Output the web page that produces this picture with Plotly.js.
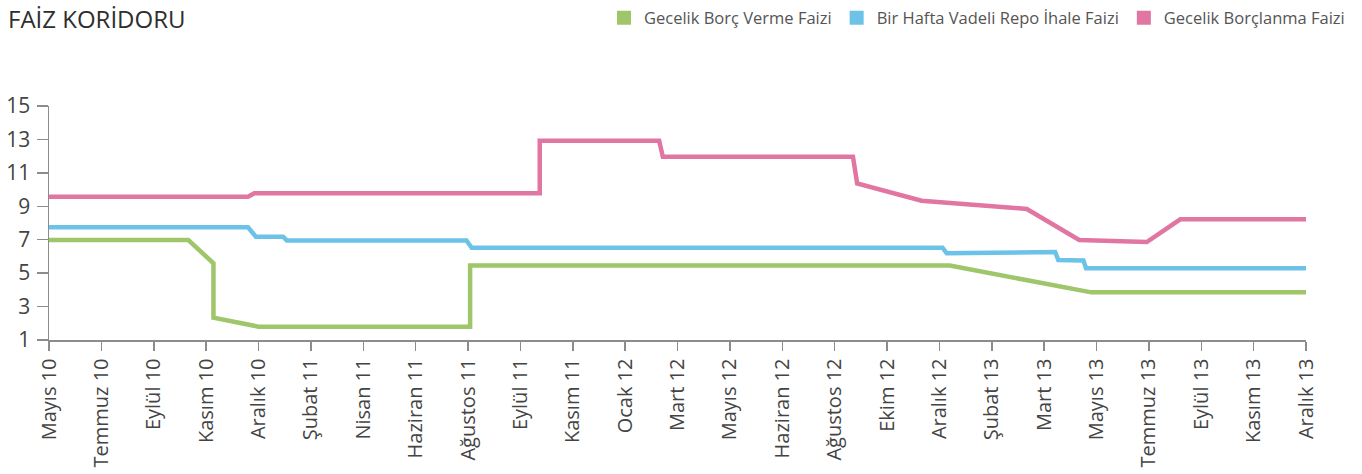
<!DOCTYPE html>
<html>
<head>
<meta charset="utf-8">
<script src="https://cdn.plot.ly/plotly-3.0.1.min.js"></script>
<style>html,body{margin:0;padding:0;background:#fff;}#chart{width:1362px;height:474px;}</style>
</head>
<body>
<div id="chart"></div>
<script>
// Category tick labels (x axis is an index scale 0..24, one step per label)
const tickLabels = ["Mayıs 10","Temmuz 10","Eylül 10","Kasım 10","Aralık 10","Şubat 11","Nisan 11","Haziran 11","Ağustos 11","Eylül 11","Kasım 11","Ocak 12","Mart 12","Mayıs 12","Haziran 12","Ağustos 12","Ekim 12","Aralık 12","Şubat 13","Mart 13","Mayıs 13","Temmuz 13","Eylül 13","Kasım 13","Aralık 13"];

const seriesNames = ["Gecelik Borç Verme Faizi","Bir Hafta Vadeli Repo İhale Faizi","Gecelik Borçlanma Faizi"];

// Gecelik Borç Verme Faizi (green)
const greenX = [0, 2.66, 3.14, 3.14, 4.0, 8.04, 8.04, 17.2, 19.9, 24];
const greenY = [6.98, 6.98, 5.59, 2.33, 1.80, 1.80, 5.45, 5.45, 3.85, 3.85];

// Bir Hafta Vadeli Repo İhale Faizi (blue)
const blueX = [0, 3.8, 3.95, 4.47, 4.54, 7.97, 8.07, 17.06, 17.14, 19.21, 19.27, 19.75, 19.8, 24];
const blueY = [7.74, 7.74, 7.18, 7.18, 6.96, 6.96, 6.52, 6.52, 6.19, 6.27, 5.79, 5.76, 5.29, 5.29];

// Gecelik Borçlanma Faizi (pink)
const pinkX = [0, 3.8, 3.92, 9.37, 9.37, 11.65, 11.72, 15.35, 15.43, 16.66, 18.67, 19.67, 20.96, 21.6, 24];
const pinkY = [9.57, 9.57, 9.78, 9.78, 12.92, 12.92, 11.97, 11.97, 10.37, 9.33, 8.84, 6.98, 6.86, 8.22, 8.22];

const yTicks = [1, 3, 5, 7, 9, 11, 13, 15];

const colors = ["#9fc66a", "#6cc3e7", "#e176a3"];
const xs = [greenX, blueX, pinkX];
const ys = [greenY, blueY, pinkY];

const traces = [];
for (let i = 0; i < 3; i++) {
  traces.push({
    x: xs[i], y: ys[i], type: "scatter", mode: "lines",
    line: {color: colors[i], width: 4.5},
    showlegend: false, hoverinfo: "skip"
  });
}
for (let i = 0; i < 3; i++) {
  traces.push({
    x: [null], y: [null], type: "scatter", mode: "markers",
    name: seriesNames[i],
    marker: {symbol: "square", size: 14, color: colors[i]},
    showlegend: true
  });
}

const axisColor = "#8c8c8c";
const layout = {
  width: 1362, height: 474,
  margin: {l: 49, r: 56, t: 106, b: 134},
  paper_bgcolor: "#fff", plot_bgcolor: "#fff",
  font: {family: "Open Sans, sans-serif", color: "#444"},
  title: {
    text: "FAİZ KORİDORU",
    xref: "container", yref: "container",
    x: 8/1362, xanchor: "left",
    y: 1 - 20/474, yanchor: "middle",
    font: {size: 24, color: "#2e2e2e", family: "Open Sans, sans-serif"}
  },
  showlegend: true,
  legend: {
    orientation: "h",
    xref: "container", yref: "container",
    x: 1350/1362, xanchor: "right",
    y: 1 - 18/474, yanchor: "middle",
    font: {size: 16.5, color: "#555"},
    itemclick: false
  },
  xaxis: {
    range: [0, 24],
    tickmode: "array",
    tickvals: tickLabels.map((_, i) => i),
    ticktext: tickLabels,
    tickangle: -90,
    ticks: "outside", ticklen: 9, tickwidth: 1.5, tickcolor: axisColor,
    showline: true, linecolor: axisColor, linewidth: 1.5,
    showgrid: false, zeroline: false,
    tickfont: {size: 20, color: "#444"},
    ticklabelstandoff: 0,
    fixedrange: true
  },
  yaxis: {
    range: [1, 15],
    tickmode: "array",
    tickvals: yTicks,
    ticks: "outside", ticklen: 11, tickwidth: 1.5, tickcolor: axisColor,
    showline: true, linecolor: axisColor, linewidth: 1.5,
    showgrid: false, zeroline: false,
    tickfont: {size: 21, color: "#444"},
    ticklabelstandoff: 2,
    fixedrange: true
  }
};

Plotly.newPlot("chart", traces, layout, {displayModeBar: false, staticPlot: true});
</script>
</body>
</html>
